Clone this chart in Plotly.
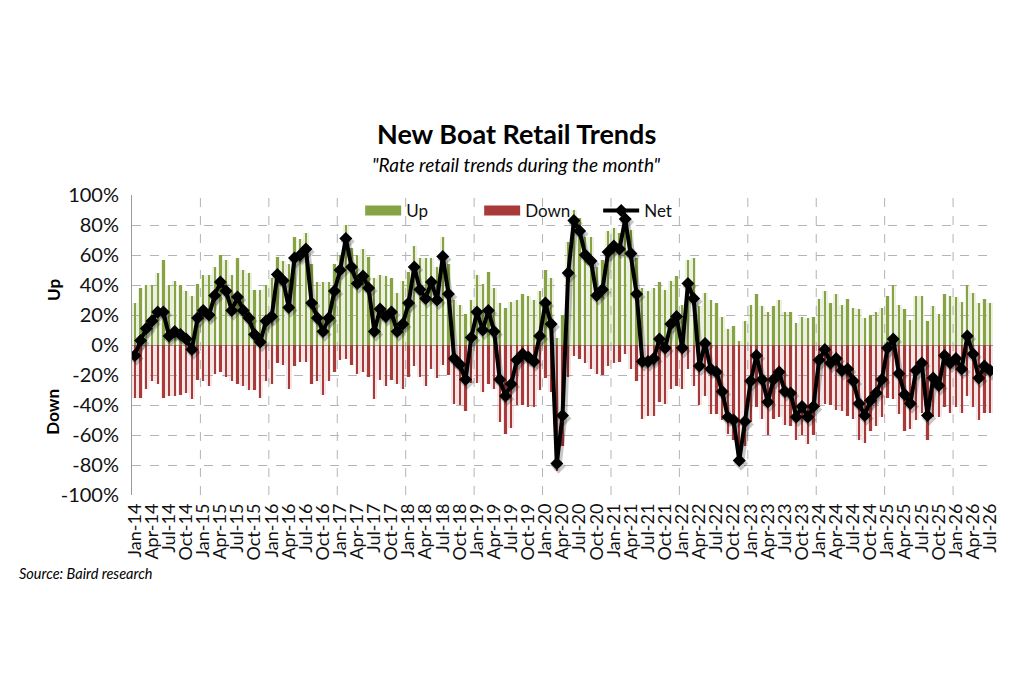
import plotly.graph_objects as go

# ------------------------------------------------------------
# Data, monthly Jan-14 .. Jul-26
# ------------------------------------------------------------
month_names = ['Jan', 'Feb', 'Mar', 'Apr', 'May', 'Jun',
               'Jul', 'Aug', 'Sep', 'Oct', 'Nov', 'Dec']
months = [f'{m}-{y:02d}' for y in range(14, 27) for m in month_names][:151]

up = [28, 38, 40, 40, 48, 57, 40, 43, 40, 36, 33, 41,
      47, 47, 52, 60, 57, 47, 58, 50, 48, 37, 37, 40,
      45, 59, 56, 54, 72, 71, 75, 54, 42, 42, 42, 54,
      60, 80, 65, 60, 64, 59, 45, 47, 46, 45, 35, 43,
      49, 66, 58, 58, 58, 52, 72, 54, 30, 27, 21, 30,
      47, 41, 49, 38, 28, 25, 29, 30, 34, 33, 30, 36,
      50, 45, 5, 20, 69, 90, 85, 72, 72, 52, 57, 76,
      78, 75, 90, 77, 58, 38, 36, 38, 42, 37, 43, 46,
      27, 57, 58, 26, 35, 30, 28, 19, 11, 13, 3, 16,
      27, 34, 26, 22, 26, 30, 22, 22, 15, 19, 18, 19,
      31, 36, 28, 34, 27, 31, 25, 24, 18, 20, 22, 25,
      33, 40, 27, 24, 17, 33, 33, 16, 26, 21, 34, 33,
      32, 29, 40, 35, 28, 31, 28]

down = [35, 35, 29, 24, 26, 35, 34, 34, 33, 32, 36, 23,
        24, 27, 19, 18, 21, 24, 26, 27, 30, 30, 35, 24,
        26, 12, 13, 29, 14, 11, 11, 26, 24, 33, 24, 18,
        10, 9, 13, 19, 18, 21, 36, 23, 27, 23, 26, 29,
        21, 14, 21, 27, 16, 22, 13, 20, 39, 40, 44, 25,
        25, 31, 26, 29, 51, 59, 55, 40, 40, 41, 41, 30,
        22, 31, 84, 67, 21, 7, 9, 12, 16, 19, 20, 14,
        12, 11, 6, 16, 24, 49, 47, 47, 38, 39, 29, 27,
        29, 16, 27, 40, 34, 46, 46, 50, 59, 63, 80, 67,
        51, 41, 49, 60, 49, 48, 53, 54, 63, 60, 66, 60,
        41, 39, 40, 43, 44, 47, 49, 63, 65, 57, 54, 48,
        35, 36, 46, 57, 56, 50, 45, 63, 48, 48, 41, 45,
        41, 45, 34, 41, 50, 45, 45]

net = [-7, 3, 11, 16, 22, 22, 6, 9, 7, 4, -3, 18,
       23, 20, 33, 42, 36, 23, 32, 23, 18, 7, 2, 16,
       19, 47, 43, 25, 58, 60, 64, 28, 18, 9, 18, 36,
       50, 71, 52, 41, 46, 38, 9, 24, 19, 22, 9, 14,
       28, 52, 37, 31, 42, 30, 59, 34, -9, -13, -23, 5,
       22, 10, 23, 9, -23, -34, -26, -10, -6, -8, -11, 6,
       28, 14, -79, -47, 48, 83, 76, 60, 56, 33, 37, 62,
       66, 64, 84, 61, 34, -11, -11, -9, 4, -2, 14, 19,
       -2, 41, 31, -14, 1, -16, -18, -31, -48, -50, -77, -51,
       -24, -7, -23, -38, -23, -18, -31, -32, -48, -41, -48, -41,
       -10, -3, -12, -9, -17, -16, -24, -39, -47, -37, -32, -23,
       -2, 4, -19, -33, -39, -17, -12, -47, -22, -27, -7, -12,
       -9, -16, 6, -6, -22, -14, -17]

down_neg = [-d for d in down]

y_ticks = [-100, -80, -60, -40, -20, 0, 20, 40, 60, 80, 100]
y_ticktext = ['-100%', '-80%', '-60%', '-40%', '-20%', '0%',
              '20%', '40%', '60%', '80%', '100%']
x_ticks = months[::3]

GREEN = '#86a444'
RED = '#a83a3a'
GRID = '#b4b4b4'
FONT = 'Lato'

fig = go.Figure()

# soft glow behind the thin bars (mimics the Excel shadow)
fig.add_trace(go.Bar(x=months, y=up, width=0.95, marker_color='rgba(134,164,68,0.16)',
                     marker_line_width=0, showlegend=False, hoverinfo='skip'))
fig.add_trace(go.Bar(x=months, y=down_neg, width=0.95, marker_color='rgba(168,58,58,0.13)',
                     marker_line_width=0, showlegend=False, hoverinfo='skip'))

fig.add_trace(go.Bar(x=months, y=up, name='Up', width=0.4,
                     marker_color=GREEN, marker_line_width=0, showlegend=False))
fig.add_trace(go.Bar(x=months, y=down_neg, name='Down', width=0.4,
                     marker_color=RED, marker_line_width=0, showlegend=False))

# shadow of the net line, drawn on offset overlay axes
fig.add_trace(go.Scatter(x=months, y=net, mode='lines+markers',
                         line=dict(color='rgba(0,0,0,0.22)', width=6),
                         marker=dict(symbol='diamond', size=11, color='rgba(0,0,0,0.22)'),
                         xaxis='x2', yaxis='y2', showlegend=False, hoverinfo='skip'))

fig.add_trace(go.Scatter(x=months, y=net, name='Net', mode='lines+markers',
                         line=dict(color='black', width=4),
                         marker=dict(symbol='diamond', size=10, color='black'),
                         showlegend=False))

# legend entries (wide swatches like the original)
fig.add_trace(go.Scatter(x=[None], y=[None], name='Up', mode='lines',
                         line=dict(color=GREEN, width=10)))
fig.add_trace(go.Scatter(x=[None], y=[None], name='Down', mode='lines',
                         line=dict(color=RED, width=10)))
fig.add_trace(go.Scatter(x=[None], y=[None], name='Net', mode='lines+markers',
                         line=dict(color='black', width=4),
                         marker=dict(symbol='diamond', size=10, color='black')))

# yearly vertical dashed gridlines at category boundaries
year_bounds = [i - 0.5 for i in range(12, len(months), 12)]
shapes = [dict(type='line', xref='x', yref='paper', x0=b, x1=b, y0=0, y1=1,
               line=dict(color=GRID, width=1, dash='dash'), layer='below')
          for b in year_bounds]

fig.update_layout(
    width=1016, height=674,
    paper_bgcolor='white', plot_bgcolor='white',
    font=dict(family=FONT, color='#111', size=15),
    margin=dict(l=124, r=31, t=187, b=187),
    barmode='overlay',
    bargap=0,
    shapes=shapes,
    legend=dict(orientation='h', x=0.265, y=0.947, xanchor='left', yanchor='middle',
                entrywidth=68, bgcolor='rgba(0,0,0,0)', font=dict(size=17),
                itemwidth=36, tracegroupgap=0),
    xaxis=dict(type='category', range=[-0.5, len(months) - 0.5],
               tickmode='array', tickvals=x_ticks, ticktext=x_ticks,
               tickangle=-90, tickfont=dict(size=18), showgrid=False,
               showline=False, ticks='', ticklabelstandoff=4),
    yaxis=dict(range=[-100, 100], tickvals=y_ticks, ticktext=y_ticktext,
               tickfont=dict(size=20), showgrid=True, gridcolor=GRID, griddash='dash',
               gridwidth=1, zeroline=True, zerolinecolor='#a0a0a0', zerolinewidth=1.2,
               showline=True, linecolor='#999', linewidth=1, ticks='',
               ticklabelstandoff=8),
    xaxis2=dict(type='category', overlaying='x', visible=False,
                range=[-0.5 - 0.3, len(months) - 0.5 - 0.3]),
    yaxis2=dict(overlaying='y', visible=False, range=[-100 + 2, 100 + 2]),
    annotations=[
        dict(text='<b>New Boat Retail Trends</b>', xref='paper', yref='paper',
             x=0.446, y=1.0 + 62 / 300, xanchor='center', yanchor='middle',
             showarrow=False, font=dict(size=27, color='#000')),
        dict(text='<i>"Rate retail trends during the month"</i>', xref='paper', yref='paper',
             x=0.446, y=1.0 + 31 / 300, xanchor='center', yanchor='middle',
             showarrow=False, font=dict(size=19, color='#000')),
        dict(text='<b>Up</b>', xref='paper', yref='paper', x=-0.092, y=0.683,
             xanchor='center', yanchor='middle',
             textangle=-90, showarrow=False, font=dict(size=17, color='#000')),
        dict(text='<b>Down</b>', xref='paper', yref='paper', x=-0.092, y=0.277,
             xanchor='center', yanchor='middle',
             textangle=-90, showarrow=False, font=dict(size=17, color='#000')),
        dict(text='<i>Source: Baird research</i>', xref='paper', yref='paper',
             x=-0.133, y=-0.26, xanchor='left', yanchor='middle',
             showarrow=False, font=dict(size=14.5, color='#000')),
    ],
)

fig.write_html('out.html')
